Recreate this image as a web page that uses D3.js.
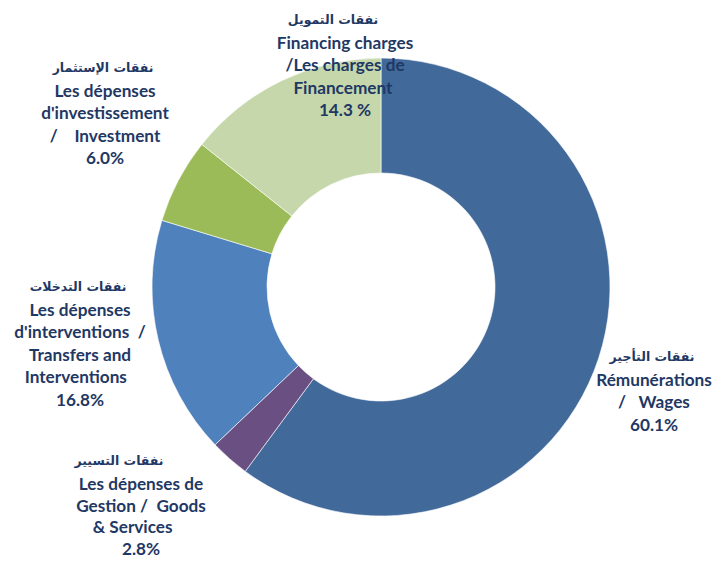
<!DOCTYPE html>
<html>
<head>
<meta charset="utf-8">
<script src="https://cdn.jsdelivr.net/npm/d3@7"></script>
<style>
  html, body { margin: 0; padding: 0; background: #fff; }
  text { white-space: pre; }
</style>
</head>
<body>
<script>
// Expense categories, clockwise from 12 o'clock
const categories = ["Wages", "Goods & Services", "Transfers and Interventions", "Investment", "Financing charges"];
const shares = [60.1, 2.8, 16.8, 6.0, 14.3];
const colors = ["#416a9b", "#6a4f83", "#4f81bd", "#9bbb59", "#c5d7ab"];

const arabicLabels = ["نفقات التأجير", "نفقات التسيير", "نفقات التدخلات", "نفقات الإستثمار", "نفقات التمويل"];
const textLines = [
  ["Rémunérations", "/   Wages", "60.1%"],
  ["Les dépenses de", "Gestion /  Goods", "& Services    ", "2.8%"],
  ["Les dépenses", "d'interventions  /", "Transfers and", "Interventions  ", "16.8%"],
  ["Les dépenses", "d'investissement", "/    Investment", "6.0%"],
  ["Financing charges", "/Les charges de", "Financement ", "14.3 %"]
];

// label anchor (center x, baseline of arabic line), line step – layout only
const labelPos = [[654, 361], [141, 465], [80, 291], [105, 72], [345, 24]];
const labelStep = [22.4, 21.6, 22.4, 22.4, 22.4];

const width = 728, height = 562;
const cx = 381, cy = 287, rOuter = 229, rInner = 114;

const svg = d3.select("body").append("svg")
  .attr("width", width)
  .attr("height", height);

const g = svg.append("g")
  .attr("transform", `translate(${cx}, ${cy})`);

const pie = d3.pie().sort(null).value(d => d);
const arc = d3.arc().innerRadius(rInner).outerRadius(rOuter);

g.selectAll("path")
  .data(pie(shares))
  .enter().append("path")
  .attr("d", arc)
  .attr("fill", (d, i) => colors[i])
  .attr("stroke", "#fff")
  .attr("stroke-width", 0.6);

// labels
const labels = svg.selectAll("g.label")
  .data(categories)
  .enter().append("g")
  .attr("class", "label")
  .attr("transform", (d, i) => `translate(${labelPos[i][0]}, ${labelPos[i][1]})`);

labels.append("text")
  .attr("text-anchor", "middle")
  .attr("direction", "rtl")
  .attr("x", (d, i) => i === 4 ? -12 : (i === 1 ? -22 : -2))
  .attr("y", 0)
  .attr("font-family", "DejaVu Sans")
  .attr("font-weight", "bold")
  .attr("font-size", 12.5)
  .attr("fill", "#1f3864")
  .text((d, i) => arabicLabels[i]);

labels.each(function(d, i) {
  d3.select(this).selectAll("text.en")
    .data(textLines[i])
    .enter().append("text")
    .attr("class", "en")
    .attr("text-anchor", "middle")
    .attr("x", 0)
    .attr("y", (t, j) => 25 + j * labelStep[i])
    .attr("font-family", "Lato")
    .attr("font-weight", "bold")
    .attr("font-size", 17.2)
    .attr("fill", "#1f3864")
    .text(t => t);
});
</script>
</body>
</html>
